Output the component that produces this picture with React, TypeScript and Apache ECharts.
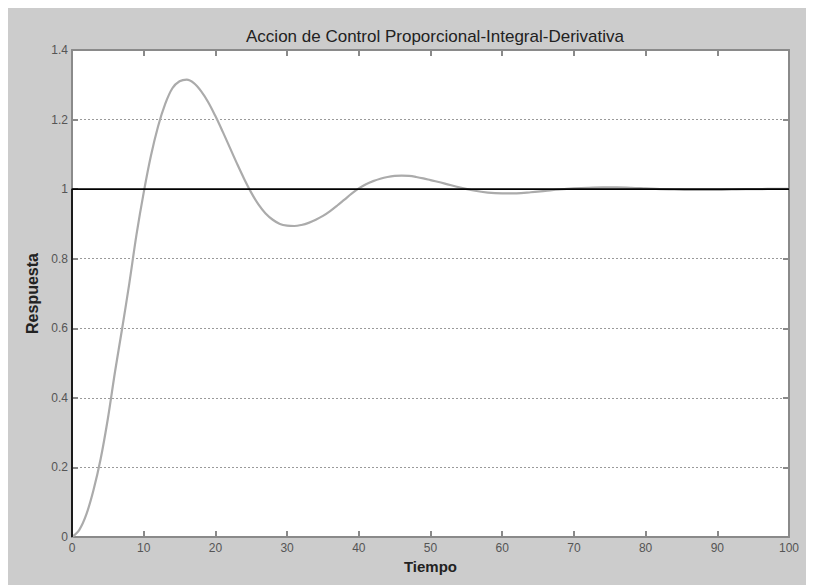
import React, { useEffect, useRef } from "react";
import * as echarts from "echarts";

// Closed-loop step response of the PID-controlled plant
const tiempo = [
  0, 1, 2, 3, 4, 5, 6, 7, 8, 9, 10, 11, 12, 13, 14, 15, 16, 17, 18, 19, 20,
  21, 22, 23, 24, 25, 26, 27, 28, 29, 30, 31, 32, 33, 34, 35, 36, 37, 38, 39,
  40, 41, 42, 43, 44, 45, 46, 47, 48, 49, 50, 52, 54, 56, 58, 60, 62, 64, 66,
  68, 70, 72, 74, 76, 78, 80, 82, 84, 86, 88, 90, 92, 94, 96, 98, 100,
];
const respuesta = [
  0, 0.02, 0.065, 0.135, 0.225, 0.34, 0.475, 0.6, 0.73, 0.87, 0.99, 1.095,
  1.18, 1.245, 1.29, 1.31, 1.315, 1.305, 1.282, 1.25, 1.21, 1.166, 1.12,
  1.074, 1.03, 0.99, 0.956, 0.93, 0.912, 0.9, 0.895, 0.894, 0.897, 0.903,
  0.912, 0.923, 0.937, 0.953, 0.97, 0.987, 1.002, 1.014, 1.023, 1.03, 1.035,
  1.038, 1.039, 1.038, 1.035, 1.031, 1.026, 1.016, 1.005, 0.996, 0.99, 0.988,
  0.988, 0.991, 0.995, 0.999, 1.002, 1.004, 1.005, 1.005, 1.004, 1.002, 1.0,
  0.999, 0.998, 0.998, 0.998, 0.999, 1.0, 1.0, 1.001, 1.001,
];

// Unit step reference
const referenciaT = [0, 0, 100];
const referenciaY = [0, 1, 1];

const xTicks = [0, 10, 20, 30, 40, 50, 60, 70, 80, 90, 100];
const yTicks = [0, 0.2, 0.4, 0.6, 0.8, 1, 1.2, 1.4];

const FONT = "'Liberation Sans', Arial, sans-serif";
const AXIS_GRAY = "#8a8a8a";

export default function App() {
  const ref = useRef<HTMLDivElement>(null);

  useEffect(() => {
    if (!ref.current) return;
    const chart = echarts.init(ref.current, undefined, { renderer: "svg" });

    const axisLine = { show: true, onZero: false, lineStyle: { color: AXIS_GRAY, width: 2 } };
    const axisTick = { show: true, inside: true, length: 6, lineStyle: { color: AXIS_GRAY, width: 2 } };
    const xBase = {
      type: "value" as const,
      min: xTicks[0],
      max: xTicks[xTicks.length - 1],
      interval: 10,
      axisLine,
      axisTick,
      splitLine: { show: false },
    };
    const yBase = {
      type: "value" as const,
      min: yTicks[0],
      max: yTicks[yTicks.length - 1],
      interval: 0.2,
      axisLine,
      axisTick,
    };

    chart.setOption({
      animation: false,
      backgroundColor: "#cccccc",
      title: {
        text: "Accion de Control Proporcional-Integral-Derivativa",
        left: 422,
        textAlign: "center",
        top: 15,
        textStyle: { fontFamily: FONT, fontSize: 17, fontWeight: "normal", color: "#222" },
      },
      grid: { left: 64, right: 25, top: 42, bottom: 48, show: true, backgroundColor: "#ffffff", borderWidth: 0 },
      xAxis: [
        {
          ...xBase,
          position: "bottom",
          name: "Tiempo",
          nameLocation: "middle",
          nameGap: 22,
          nameTextStyle: { fontFamily: FONT, fontSize: 15, fontWeight: "bold", color: "#222" },
          axisLabel: {
            fontFamily: FONT,
            fontSize: 12,
            color: "#555",
            margin: 5,
            formatter: (v: number) => String(v),
          },
        },
        { ...xBase, position: "top", axisLabel: { show: false } },
      ],
      yAxis: [
        {
          ...yBase,
          position: "left",
          name: "Respuesta",
          nameLocation: "middle",
          nameGap: 28,
          nameTextStyle: { fontFamily: FONT, fontSize: 16, fontWeight: "bold", color: "#222" },
          axisLabel: {
            fontFamily: FONT,
            fontSize: 12,
            color: "#555",
            margin: 4,
            formatter: (v: number) => String(Math.round(v * 10) / 10),
          },
          splitLine: { show: true, lineStyle: { color: "#9a9a9a", type: [2, 2], width: 1 } },
        },
        { ...yBase, position: "right", axisLabel: { show: false }, splitLine: { show: false } },
      ],
      series: [
        {
          type: "line",
          data: tiempo.map((t, i) => [t, respuesta[i]]),
          showSymbol: false,
          smooth: 0.35,
          lineStyle: { color: "#ababab", width: 2.2 },
          z: 3,
        },
        {
          type: "line",
          data: referenciaT.map((t, i) => [t, referenciaY[i]]),
          showSymbol: false,
          clip: false,
          lineStyle: { color: "#000000", width: 1.6 },
          z: 4,
        },
      ],
    });

    return () => chart.dispose();
  }, []);

  return <div ref={ref} style={{ width: 806, height: 577 }} />;
}
